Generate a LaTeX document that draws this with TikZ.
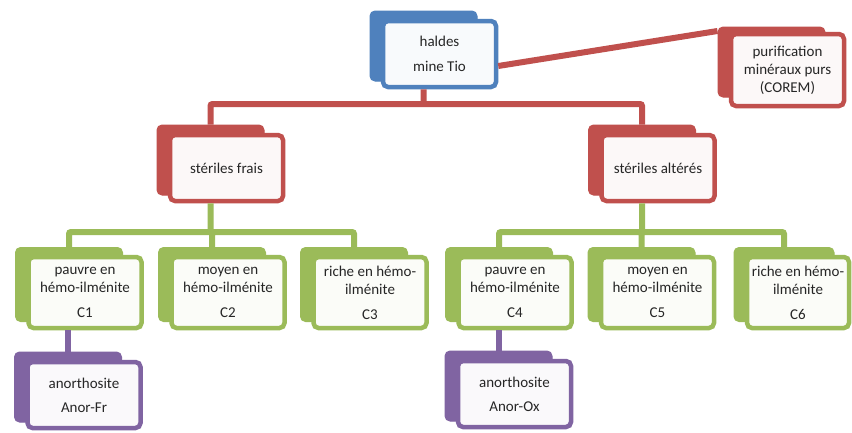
\documentclass[tikz,border=0pt]{standalone}
\usepackage{fontspec}
\setmainfont{Carlito}
\usetikzlibrary{positioning}
\definecolor{oblue}{RGB}{79,129,189}
\definecolor{ored}{RGB}{192,80,77}
\definecolor{ogreen}{RGB}{155,187,89}
\definecolor{opurple}{RGB}{128,100,162}
\tikzset{
  back/.style={fill=#1, draw=#1, line width=1pt, rounded corners=5pt, minimum width=107pt, minimum height=70pt},
  front/.style={draw=#1, fill=#1!4!white, line width=4.5pt, rounded corners=5pt, minimum width=113pt, minimum height=66pt, inner sep=2pt, align=center, text=black!85, font=\fontsize{15}{18}\selectfont},
  link/.style={draw=#1, line width=6pt, rounded corners=2pt}
}

\begin{document}
\begin{tikzpicture}[x=1pt, y=-1pt]
                \path[use as bounding box, fill=white] (0,0) rectangle (852,432);
                % connectors
                \coordinate (rj) at (423.5,104);
                \coordinate (gl) at (210.5,232);
                \coordinate (gr) at (642,232);
                \node[back=oblue] (haldesb) at (423.5,46) {};
                \node[front=oblue] (haldes) at ([shift={(16,8)}]haldesb) {haldes\\[7pt]mine Tio};
                \node[back=ored] (purifb) at (771.5,62) {};
                \node[front=ored, minimum height=72pt] (purif) at ([shift={(16,8)}]purifb) {purification\\minéraux purs\\(COREM)};
                \path[link=ored]
                (haldes.south -| haldesb) -- (rj)
                (haldes.east |- 0,66) -- (purifb.west |- 0,31);
                \node[back=ored] (fraisb) at (210.5,160) {};
                \node[back=ored] (alterb) at (642,160) {};
                \path[link=ored] (rj) -| (fraisb.north) (rj) -| (alterb.north);
                \node[front=ored] (frais) at ([shift={(16,8)}]fraisb) {stériles frais};
                \node[front=ored] (alter) at ([shift={(16,8)}]alterb) {stériles altérés};
                % fresh tailings
                \node[back=ogreen, minimum height=74pt] (c1b) at (69,284.5) {};
                \node[back=ogreen, minimum height=74pt] (c2b) at (212,284.5) {};
                \node[back=ogreen, minimum height=74pt] (c3b) at (354,284.5) {};
                \node[back=ogreen, minimum height=74pt] (c4b) at (499,284.5) {};
                \node[back=ogreen, minimum height=74pt] (c5b) at (641.5,284.5) {};
                \node[back=ogreen, minimum height=74pt, minimum width=100pt] (c6b) at (784,284.5) {};
                \path[link=ogreen]
                (frais.south -| gl) -- (gl)
                (gl) -| (c1b.north) (gl) -| (c2b.north) (gl) -| (c3b.north)
                (alter.south -| gr) -- (gr)
                (gr) -| (c4b.north) (gr) -| (c5b.north) (gr) -| (c6b.north);
                \node[front=ogreen, minimum height=71pt] (c1) at ([shift={(16,8)}]c1b) {pauvre en\\hémo-ilménite\\[7pt]C1};
                \node[front=ogreen, minimum height=71pt] (c2) at ([shift={(16,8)}]c2b) {moyen en\\hémo-ilménite\\[7pt]C2};
                \node[front=ogreen, minimum height=71pt] (c3) at ([shift={(16,8)}]c3b) {riche en hémo-\\ilménite\\[7pt]C3};
                \node[front=ogreen, minimum height=71pt] (c4) at ([shift={(16,8)}]c4b) {pauvre en\\hémo-ilménite\\[7pt]C4};
                \node[front=ogreen, minimum height=71pt] (c5) at ([shift={(16,8)}]c5b) {moyen en\\hémo-ilménite\\[7pt]C5};
                \node[front=ogreen, minimum height=71pt, minimum width=102pt] (c6) at ([shift={(14,8)}]c6b) {riche en hémo-\\ilménite\\[7pt]C6};
                % anorthosite
                \node[back=opurple] (anorfrb) at (68,387) {};
                \node[back=opurple] (anoroxb) at (498.5,386) {};
                \path[link=opurple]
                (c1.south -| anorfrb) -- (anorfrb.north)
                (c4.south -| anoroxb) -- (anoroxb.north);
                \node[front=opurple] (anorfr) at ([shift={(16,8)}]anorfrb) {anorthosite\\[6pt]Anor-Fr};
                \node[front=opurple] (anorox) at ([shift={(16,8)}]anoroxb) {anorthosite\\[6pt]Anor-Ox};
\end{tikzpicture}
\end{document}
